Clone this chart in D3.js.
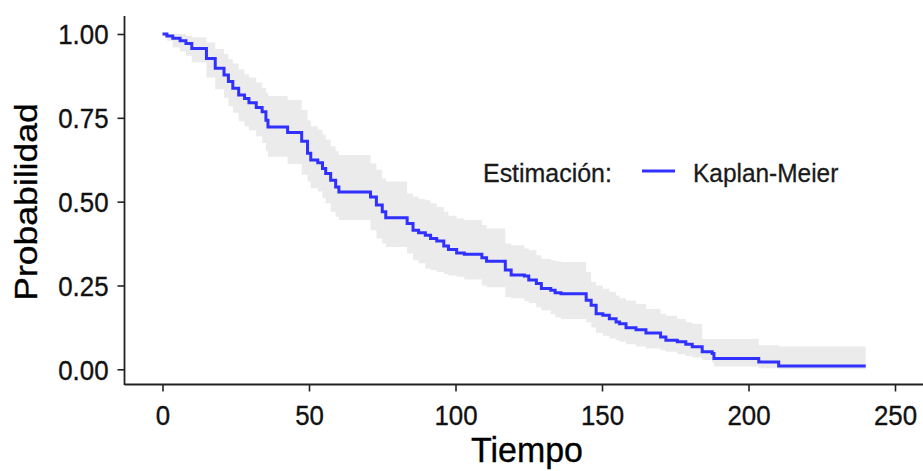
<!DOCTYPE html>
<html>
<head>
<meta charset="utf-8">
<script src="https://cdn.jsdelivr.net/npm/d3@7/dist/d3.min.js"></script>
<style>
  html, body { margin: 0; padding: 0; background: #fff; }
  svg { display: block; font-family: "Liberation Sans", Arial, sans-serif; }
</style>
</head>
<body>
<svg id="chart" width="923" height="471"></svg>
<script>
// ---- data ----
const times = [0, 1.5, 3.5, 6, 8, 10, 15, 18, 21, 22.5, 24, 26, 28, 29.5, 32, 34, 35.3, 36, 42.7, 47.5,
  49.5, 50.6, 53, 54.6, 55.7, 57.4, 59.1, 60.2, 71, 73, 75, 76.2, 83.5, 85.5, 87.4, 89.7, 91.5, 93.6, 96, 97.6,
  100.4, 103, 109, 110.6, 117, 119, 123.5, 125, 127.6, 129.3, 132.5, 134, 136, 144.6, 146.3, 148, 150.3, 152.5, 154.8, 156,
  158.2, 161.6, 165, 170, 171.8, 175.7, 178.6, 180.8, 184.2, 187.6, 188.2, 203.5, 210.3];
const surv = [1.000, .994, .987, .980, .972, .957, .927, .898, .878, .858, .838, .818, .808, .795, .781, .768, .743, .723, .706, .680,
  .644, .624, .616, .599, .584, .564, .544, .529, .514, .490, .470, .452, .435, .415, .407, .400, .390, .383, .368, .357,
  .347, .343, .333, .322, .296, .281, .278, .266, .256, .241, .236, .228, .225, .206, .191, .166, .161, .151, .141, .136,
  .124, .118, .108, .096, .087, .082, .075, .067, .052, .047, .032, .022, .010];
const upper = [1.000, 1.000, 1.000, 1.000, .995, .990, .975, .955, .940, .925, .912, .895, .880, .870, .855, .840, .825, .815, .803, .773,
  .743, .725, .715, .700, .685, .665, .650, .639, .614, .595, .570, .560, .524, .515, .508, .504, .495, .484, .470, .458,
  .450, .445, .430, .420, .375, .370, .360, .355, .340, .330, .325, .322, .320, .290, .260, .250, .240, .231, .220, .212,
  .205, .195, .180, .166, .160, .150, .140, .136, .090, .090, .090, .072, .068];
const lower = [1.000, .980, .960, .948, .935, .915, .870, .835, .810, .785, .765, .740, .725, .713, .695, .675, .650, .634, .612, .580,
  .560, .540, .530, .510, .495, .470, .455, .445, .415, .390, .375, .365, .345, .325, .316, .300, .296, .290, .284, .280,
  .276, .268, .250, .245, .216, .212, .204, .198, .185, .176, .165, .155, .150, .140, .125, .108, .100, .092, .087, .082,
  .075, .068, .062, .057, .052, .045, .040, .035, .028, .020, .008, .003, .000];
const endTime = 240;
const xTicks = [0, 50, 100, 150, 200, 250];
const yTicks = [0, 0.25, 0.5, 0.75, 1];
const yTickLabels = ["0.00", "0.25", "0.50", "0.75", "1.00"];
const xTitle = "Tiempo";
const yTitle = "Probabilidad";
const legendTitle = "Estimación:";
const legendLabel = "Kaplan-Meier";

// ---- build ----
const svg = d3.select("#chart");
const x = d3.scaleLinear().domain([0, 250]).range([162.5, 895]);
const y = d3.scaleLinear().domain([0, 1]).range([369.3, 34]);

const pts = times.map((t, i) => ({ t, s: surv[i], u: upper[i], l: lower[i] }));
const last = pts[pts.length - 1];
pts.push({ t: endTime, s: last.s, u: last.u, l: last.l });

const area = d3.area()
  .x(d => x(d.t)).y0(d => y(d.l)).y1(d => y(d.u))
  .curve(d3.curveStepAfter);
const line = d3.line()
  .x(d => x(d.t)).y(d => y(d.s))
  .curve(d3.curveStepAfter);

svg.append("path").datum(pts)
  .attr("d", area).attr("fill", "#ebebeb").attr("stroke", "none");
svg.append("path").datum(pts)
  .attr("d", line).attr("fill", "none")
  .attr("stroke", "#3030ff").attr("stroke-width", 3);

// axes
const axisColor = "#222";
const textColor = "#111";
const gx = svg.append("g").attr("transform", "translate(0,384.5)")
  .call(d3.axisBottom(x).tickValues(xTicks).tickSize(7).tickFormat(d => d));
gx.select(".domain").remove();
gx.selectAll(".tick line").attr("stroke", axisColor).attr("stroke-width", 1.6);
gx.selectAll(".tick text")
  .attr("y", 41).attr("dy", "0")
  .attr("font-size", 27.5).attr("fill", textColor)
  .attr("stroke", textColor).attr("stroke-width", 0.35)
  .attr("font-family", "Liberation Sans, Arial, sans-serif")
  .attr("transform", "scale(0.94,1)");

const gy = svg.append("g").attr("transform", "translate(124.5,0)")
  .call(d3.axisLeft(y).tickValues(yTicks).tickSize(7).tickFormat((d, i) => yTickLabels[i]));
gy.select(".domain").remove();
gy.selectAll(".tick line").attr("stroke", axisColor).attr("stroke-width", 1.6);
gy.selectAll(".tick text")
  .attr("x", -17).attr("dy", "0.36em")
  .attr("font-size", 27.5).attr("fill", textColor)
  .attr("stroke", textColor).attr("stroke-width", 0.35)
  .attr("font-family", "Liberation Sans, Arial, sans-serif")
  .attr("transform", "scale(0.94,1)");

svg.append("line").attr("x1", 124.5).attr("x2", 923).attr("y1", 384.5).attr("y2", 384.5)
  .attr("stroke", axisColor).attr("stroke-width", 1.8);
svg.append("line").attr("x1", 124.5).attr("x2", 124.5).attr("y1", 16).attr("y2", 385)
  .attr("stroke", axisColor).attr("stroke-width", 1.8);

// titles
svg.append("text")
  .attr("transform", "translate(527,461.5) scale(0.97,1)")
  .attr("text-anchor", "middle").attr("font-size", 35).attr("fill", "#000")
  .attr("stroke", "#000").attr("stroke-width", 0.35)
  .text(xTitle);
svg.append("text")
  .attr("transform", "translate(37,202) rotate(-90) scale(1,0.9)")
  .attr("text-anchor", "middle").attr("font-size", 35.5).attr("fill", "#000")
  .attr("stroke", "#000").attr("stroke-width", 0.35)
  .text(yTitle);

// legend
svg.append("text")
  .attr("transform", "translate(483,181.5) scale(0.96,1)")
  .attr("font-size", 26).attr("fill", "#1a1a1a")
  .attr("stroke", "#1a1a1a").attr("stroke-width", 0.3)
  .text(legendTitle);
svg.append("line").attr("x1", 642).attr("x2", 675).attr("y1", 171).attr("y2", 171)
  .attr("stroke", "#3030ff").attr("stroke-width", 3);
svg.append("text")
  .attr("transform", "translate(693,181.5) scale(0.94,1)")
  .attr("font-size", 26).attr("fill", "#1a1a1a")
  .attr("stroke", "#1a1a1a").attr("stroke-width", 0.3)
  .text(legendLabel);
</script>
</body>
</html>
